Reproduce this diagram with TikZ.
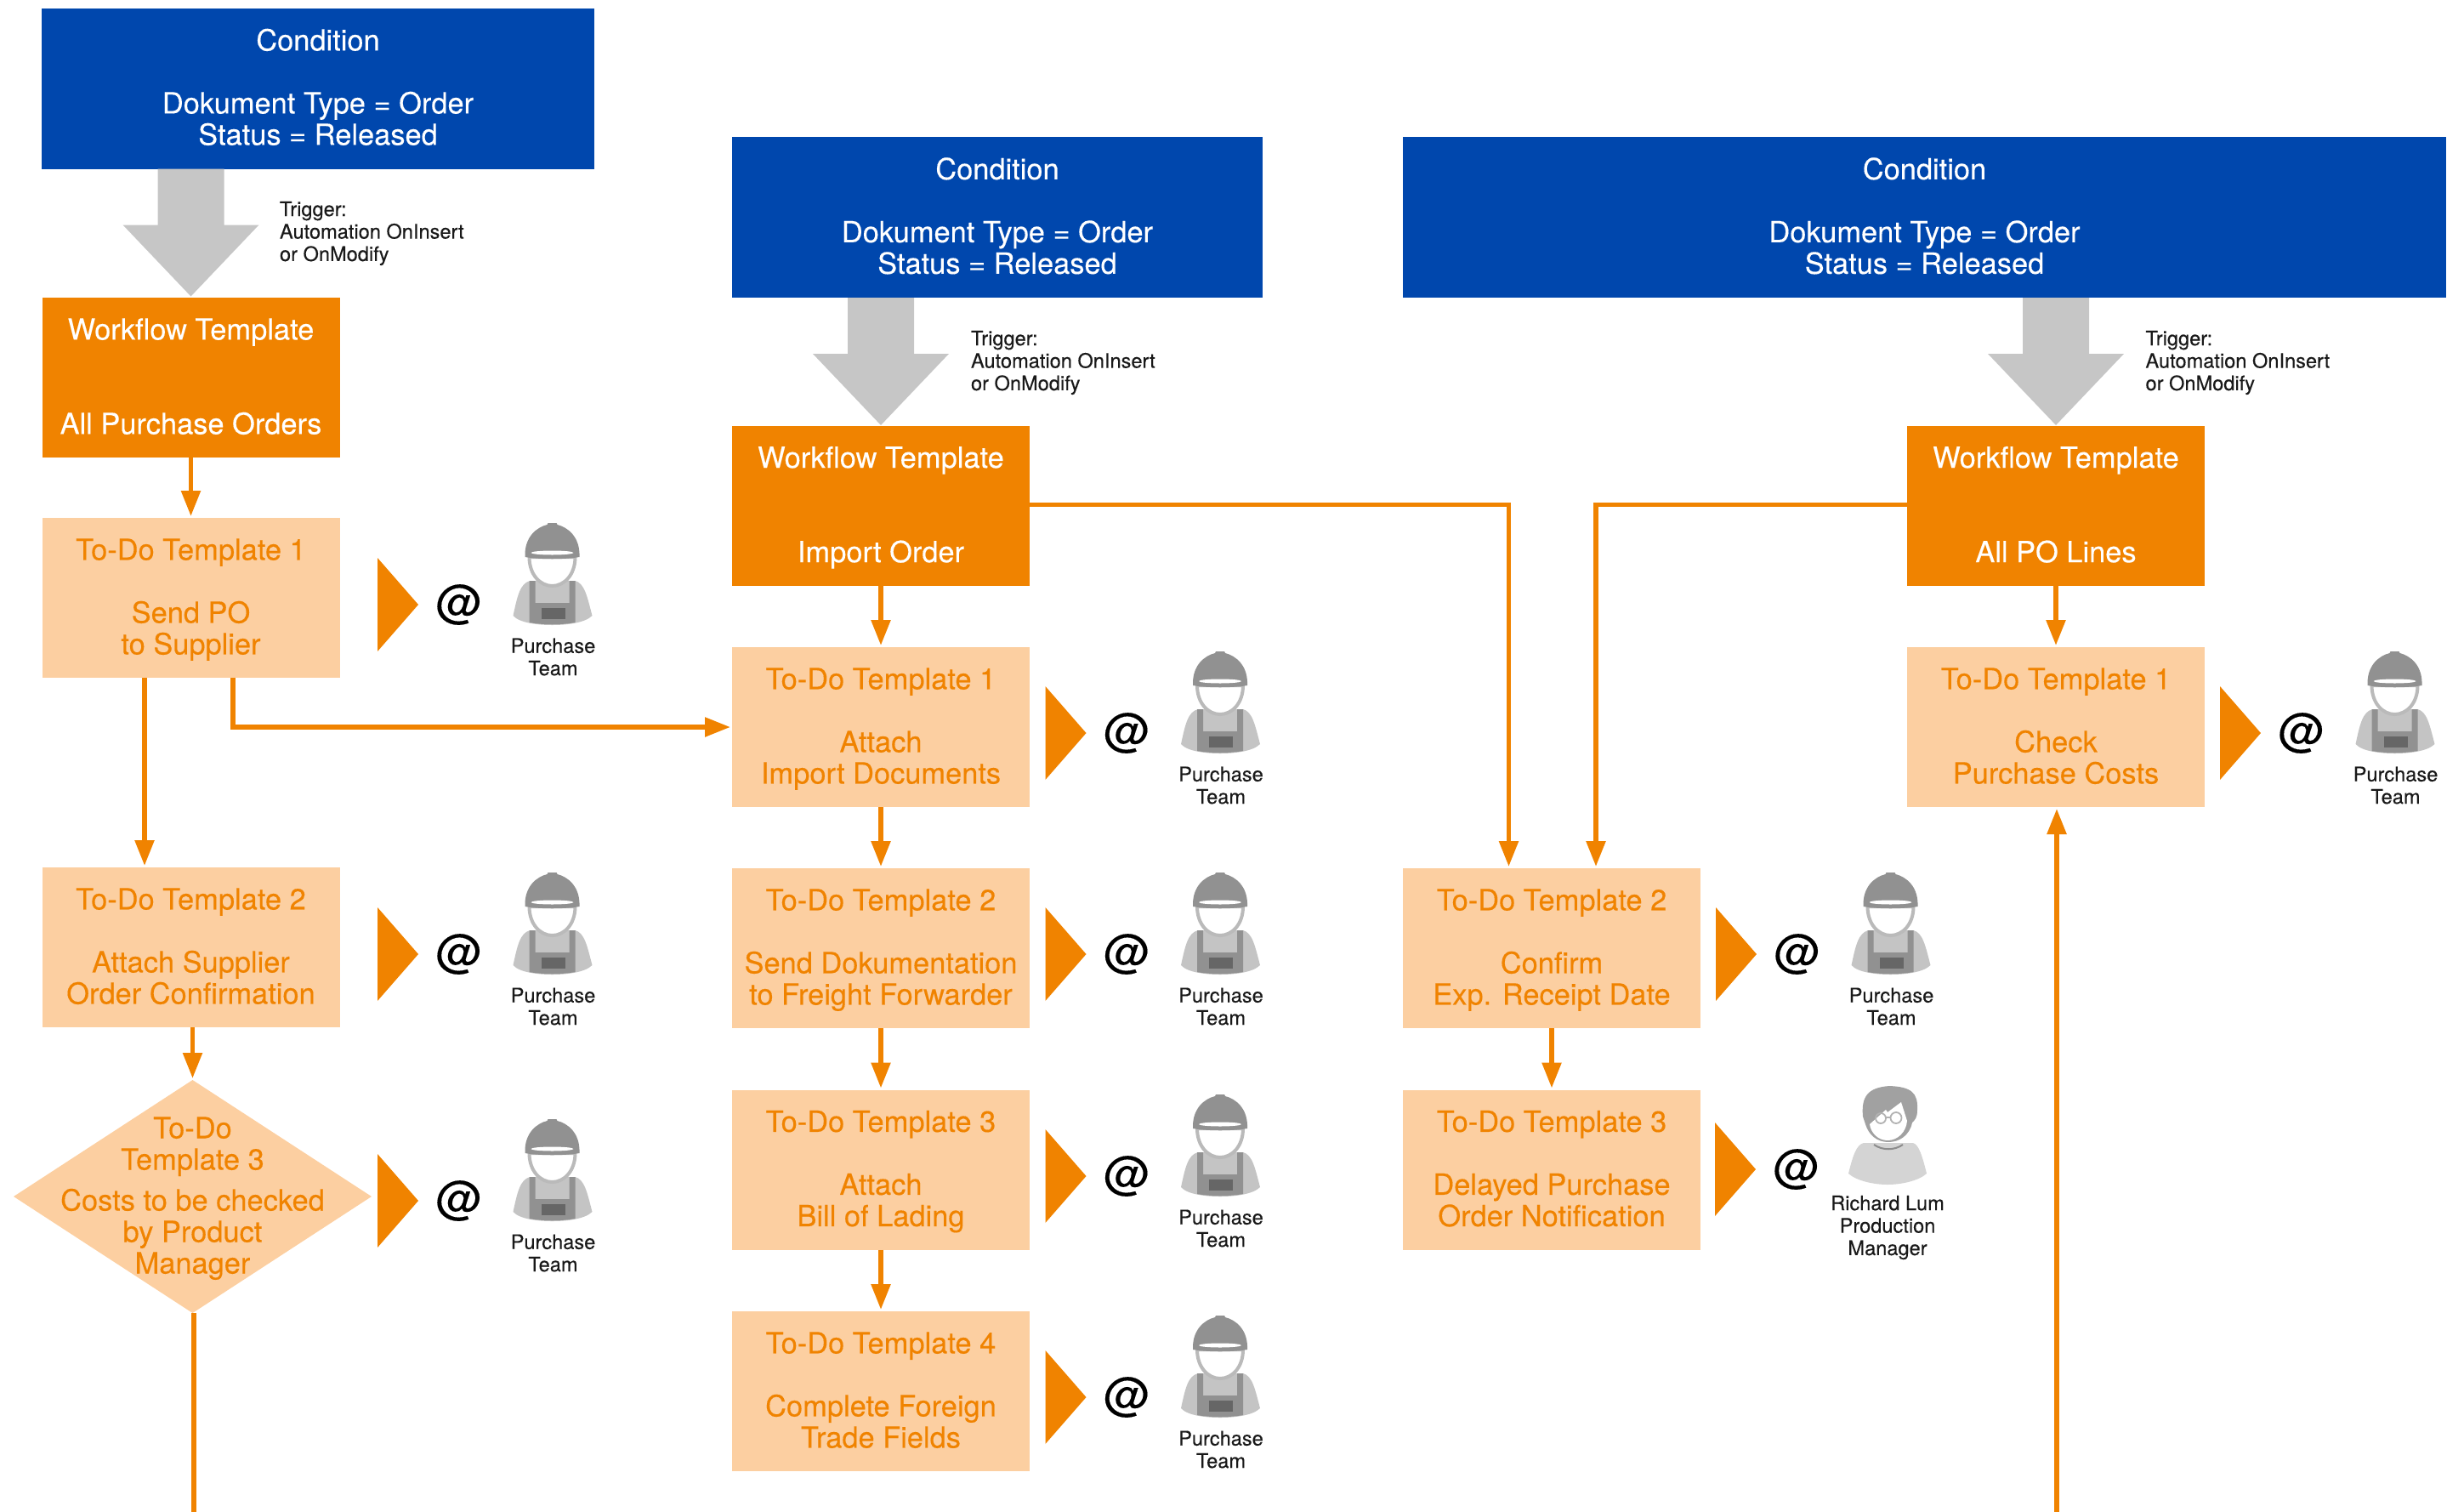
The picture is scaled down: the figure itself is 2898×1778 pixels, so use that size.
\documentclass[tikz,border=0pt]{standalone}
\usepackage{fontspec}
\setmainfont[FakeBold=0.25]{TeX Gyre Heros}
\usepackage{tikz}
\usetikzlibrary{
  arrows.meta,
  shapes.geometric
}
\definecolor{condblue}{RGB}{0,71,173}
\definecolor{wforange}{RGB}{240,131,0}
\definecolor{todopeach}{RGB}{252,207,161}
\definecolor{triggergray}{RGB}{198,198,198}
\tikzset{
  every box/.style={inner sep=0pt, outer sep=0pt, anchor=north west, align=flush center,
    font=\fontsize{17.2}{18.5}\selectfont,
    execute at begin node={\rule{0pt}{16.5pt}}, execute at end node=\strut},
  condition/.style={every box, fill=condblue, text=white, minimum height=94.5pt},
  workflow/.style={every box, fill=wforange, text=white, text width=175pt, minimum height=94pt},
  todo/.style={every box, fill=todopeach, text=wforange, text width=175pt, minimum height=94pt},
  flow/.style={draw=wforange, line width=2.75pt, -{Triangle[length=15pt,width=11pt]}, shorten >=1pt},
  small text/.style={inner sep=0pt, outer sep=0pt, font=\fontsize{11.8}{13.2}\selectfont, text=black!90},
  trigger arrow/.pic={
    \fill[triggergray] (-39,0) -- (-39,66) -- (-80,66) -- (0,150) -- (80,66) -- (39,66) -- (39,0) -- cycle;
  },
  worker/.pic={
    \fill[wforange] (0,-55) -- (48,0) -- (0,55) -- cycle;
    \node[inner sep=0pt, font=\fontsize{27}{27}\selectfont] (-at) at (96,0) {@};
    \begin{scope}[shift={(205.5,0)}]
      \fill[black!23] (-26,-28) .. controls (-38,-25) and (-41,-10) .. (-46,13)
        .. controls (-38,22) and (-15,24) .. (0,24) .. controls (15,24) and (38,22) .. (47,13)
        .. controls (41,-10) and (38,-25) .. (27,-28) -- cycle;
      \fill[black!43] (-27,-28) -- (-20,-28) -- (-20,-2) -- (20,-2) -- (20,-28) -- (27,-28) -- (27,21)
        .. controls (10,24) and (-10,24) .. (-27,21) -- cycle;
      \fill[black!60] (-13,4) rectangle (15,17);
      \fill[white, draw=black!27, line width=2pt] (-27,-56) .. controls (-27,-35) and (-14,-22) .. (0,-22)
        .. controls (14,-22) and (27,-35) .. (27,-56) -- cycle;
      \fill[black!43] (-32,-56) .. controls (-33,-80) and (-18,-91) .. (-6,-94) -- (-5,-96) -- (5,-96) -- (6,-94)
        .. controls (18,-91) and (33,-80) .. (32,-56) .. controls (15,-53) and (-15,-53) .. (-32,-56) -- cycle;
      \fill[white] (0,-61) ellipse [x radius=25, y radius=2.5];
      \node[small text, align=center] (-who) at (1,61.5) {Purchase\\Team};
    \end{scope}
  },
  manager/.pic={
    \fill[wforange] (0,-55) -- (48,0) -- (0,55) -- cycle;
    \node[inner sep=0pt, font=\fontsize{27}{27}\selectfont] (-at) at (96,0) {@};
    \begin{scope}[shift={(203,0)}]
      \fill[black!17] (-28,-31) .. controls (-37,-29) and (-41,-15) .. (-46,5)
        .. controls (-36,14) and (-15,18) .. (0,18) .. controls (15,18) and (36,14) .. (46,5)
        .. controls (41,-15) and (37,-29) .. (30,-31) -- cycle;
      \draw[black!45, line width=1pt] (-16,-29) .. controls (-6,-22) and (8,-22) .. (18,-29);
      \fill[black!37] (-29,-62) .. controls (-31,-85) and (-24,-96) .. (2,-98)
        .. controls (28,-97) and (36,-90) .. (35,-70) .. controls (35,-60) and (32,-58) .. (29,-55)
        .. controls (26,-40) and (14,-32) .. (1,-32) .. controls (-12,-32) and (-22,-40) .. (-26,-53) -- cycle;
      \fill[white] (-21,-53) -- (-2,-70) -- (0,-67) -- (16,-79) -- (23,-57)
        .. controls (22,-44) and (12,-34) .. (0,-34) .. controls (-12,-34) and (-20,-44) .. (-21,-53) -- cycle;
      \draw[black!30, line width=.9pt] (-8,-60) circle [radius=6] (10,-60.5) circle [radius=6.5] (-2,-61) -- (3.5,-61);
      \node[small text, align=center] (-who) at (0,68.5) {Richard Lum\\Production\\Manager};
    \end{scope}
  }
}
\begin{document}
\begin{tikzpicture}[x=.5pt, y=-.5pt]
\useasboundingbox (0,0) rectangle (2898,1778);
\node[condition, text width=325pt] (cond1) at (49,9.5) {Condition\\[18.5pt]Dokument Type = Order\\Status = Released};
\node[condition, text width=312pt] (cond2) at (861,161) {Condition\\[18.5pt]Dokument Type = Order\\Status = Released};
\node[condition, text width=613.5pt] (cond3) at (1650,161) {Condition\\[18.5pt]Dokument Type = Order\\Status = Released};
\node[workflow] (wf1) at (49.5,350) {Workflow Template\\[37pt]All Purchase Orders};
\node[workflow] (wf2) at (861,500.7) {Workflow Template\\[37pt]Import Order};
\node[workflow] (wf3) at (2243,500.7) {Workflow Template\\[37pt]All PO Lines};
\pic at (wf1.north |- cond1.south) {trigger arrow};
\pic at (wf2.north |- cond2.south) {trigger arrow};
\pic at (wf3.north |- cond3.south) {trigger arrow};
\node[small text, anchor=west, align=left] (trig1) at (329,274.5) {Trigger:\\Automation OnInsert\\or OnModify};
\node[small text, anchor=west, align=left] (trig2) at (1142,426.5) {Trigger:\\Automation OnInsert\\or OnModify};
\node[small text, anchor=west, align=left] (trig3) at (2523.5,426.5) {Trigger:\\Automation OnInsert\\or OnModify};
\node[todo] (po1) at (49.5,609) {To-Do Template 1\\[18.5pt]Send PO\\to Supplier};
\node[todo] (po2) at (49.5,1020) {To-Do Template 2\\[18.5pt]Attach Supplier\\Order Confirmation};
\node[diamond, fill=todopeach, inner sep=0pt, outer sep=0pt, aspect=1.536, minimum width=210.5pt, minimum height=137pt] (po3) at (226.5,1407) {};
\node[text=wforange, inner sep=0pt, align=flush center, font=\fontsize{17.2}{18.5}\selectfont,
  execute at begin node=\strut, execute at end node=\strut] (po3text) at (226.5,1411)
  {To-Do\\Template 3\\[5.5pt]Costs to be checked\\by Product\\Manager};
\node[todo] (imp1) at (861,761) {To-Do Template 1\\[18.5pt]Attach\\Import Documents};
\node[todo] (imp2) at (861,1021) {To-Do Template 2\\[18.5pt]Send Dokumentation\\to Freight Forwarder};
\node[todo] (imp3) at (861,1281.5) {To-Do Template 3\\[18.5pt]Attach\\Bill of Lading};
\node[todo] (imp4) at (861,1542) {To-Do Template 4\\[18.5pt]Complete Foreign\\Trade Fields};
\node[todo] (conf2) at (1650,1021) {To-Do Template 2\\[18.5pt]Confirm\\Exp. Receipt Date};
\node[todo] (conf3) at (1650,1281.5) {To-Do Template 3\\[18.5pt]Delayed Purchase\\Order Notification};
\node[todo] (lines1) at (2243,761) {To-Do Template 1\\[18.5pt]Check\\Purchase Costs};
\pic (w1) at (444,711) {worker};
\pic (w2) at (444,1122) {worker};
\pic (w3) at (444,1412) {worker};
\pic (w4) at (1229.5,862) {worker};
\pic (w5) at (1229.5,1122) {worker};
\pic (w6) at (1229.5,1383) {worker};
\pic (w7) at (1229.5,1643) {worker};
\pic (w8) at (2018,1122) {worker};
\pic (m1) at (2017,1375) {manager};
\pic (w9) at (2611,862) {worker};
\draw[flow] (wf1) -- (po1);
\draw[flow] ([xshift=-27.25pt]po1.south) -- ([xshift=-27.25pt]po2.north);
\draw[flow] ([xshift=24.75pt]po1.south) |- (imp1.west);
\draw[flow] ([xshift=1pt]po2.south) -- (po3.north);
\draw[flow] (wf2) -- (imp1);
\draw[flow] (imp1) -- (imp2);
\draw[flow] (imp2) -- (imp3);
\draw[flow] (imp3) -- (imp4);
\draw[flow] ([yshift=.5pt]wf2.east) -| ([xshift=-25.25pt]conf2.north);
\draw[flow] ([yshift=.5pt]wf3.west) -| ([xshift=26pt]conf2.north);
\draw[flow] (conf2) -- (conf3);
\draw[flow] (wf3) -- (lines1);
\draw[flow] ([xshift=.75pt]po3.south) -- ++(0,236.3) -| ([xshift=.5pt]lines1.south);
\end{tikzpicture}
\end{document}
